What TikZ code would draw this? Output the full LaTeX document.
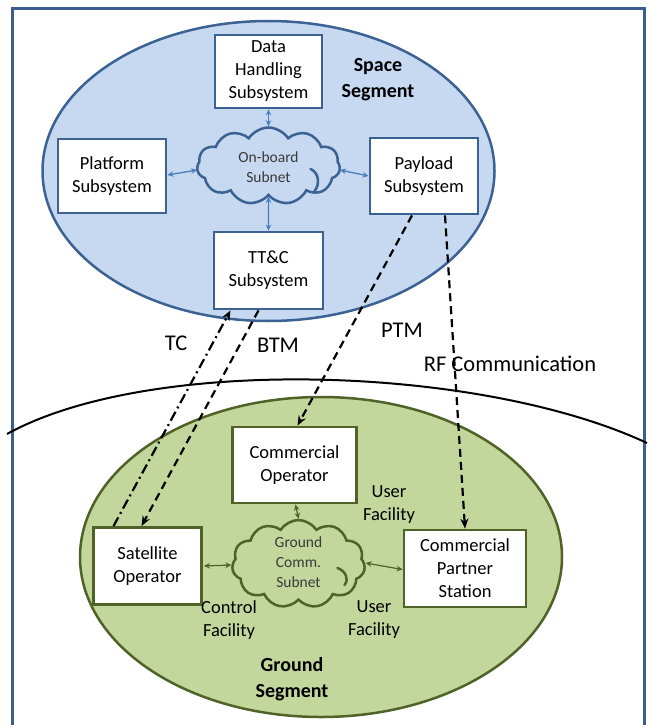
\documentclass[tikz,border=0pt]{standalone}
\usepackage{fontspec}
\setmainfont{Carlito}
\usetikzlibrary{shapes.symbols,arrows.meta,calc}

\definecolor{spacefill}{HTML}{C6D9F1}
\definecolor{spaceline}{HTML}{3C6193}
\definecolor{linkblue}{HTML}{4A7EBB}
\definecolor{groundfill}{HTML}{C3D69B}
\definecolor{groundline}{HTML}{4F6228}
\definecolor{framecol}{HTML}{3B5E8E}
\definecolor{cloudtext}{HTML}{3A3A3A}

\newcommand\boxfont{\fontsize{18.5}{23}\selectfont}
\newcommand\cloudfont{\fontsize{15.5}{20}\selectfont}
\newcommand\segfont{\fontsize{20}{26}\selectfont\bfseries}
\newcommand\linkfont{\fontsize{22.5}{27}\selectfont}

\tikzset{
  spacebox/.style={draw=spaceline, line width=2.8pt, fill=white, align=center,
    font=\boxfont, inner sep=0pt},
  groundbox/.style={draw=groundline, line width=2.8pt, fill=white, align=center,
    font=\boxfont, inner sep=0pt},
  netcloud/.style={cloud, cloud puffs=11, cloud puff arc=115, aspect=1.8,
    line width=2.5pt, inner sep=0pt},
  cloudlabel/.style={align=center, font=\cloudfont, text=cloudtext, inner sep=0pt},
  segtitle/.style={align=center, font=\segfont, inner sep=0pt},
  plainlabel/.style={align=center, font=\boxfont, inner sep=0pt},
  linklabel/.style={font=\linkfont, inner sep=0pt},
  buslink/.style={linkblue, line width=1.3pt,
    {Stealth[length=6pt,width=5.5pt]}-{Stealth[length=6pt,width=5.5pt]}},
  gndlink/.style={groundline, line width=1.2pt,
    {Stealth[length=6pt,width=5.5pt]}-{Stealth[length=6pt,width=5.5pt]}},
  dashlink/.style={line width=2.2pt, dash pattern=on 8pt off 5pt,
    -{Stealth[length=10pt,width=8pt]}},
  dotdashlink/.style={line width=2.2pt, dash pattern=on 10pt off 4pt on 2pt off 4pt,
    -{Stealth[length=10pt,width=8pt]}},
}

\begin{document}
\begin{tikzpicture}[x=1pt,y=-1pt]
\useasboundingbox (0,0) rectangle (649,725);

% outer frame (open at the bottom)
\draw[framecol, line width=3pt] (12.5,740) -- (12.5,8.5) -- (644,8.5) -- (644,740);

% segments
\draw[fill=spacefill, draw=spaceline, line width=2.5pt]
  (268.5,171) ellipse [x radius=226pt, y radius=150pt];
\draw[fill=groundfill, draw=groundline, line width=2.5pt]
  (321,557) ellipse [x radius=241pt, y radius=160pt];

% horizon
\draw[line width=2pt] (7,434) .. controls (150,355) and (480,365) .. (647,443);

% ---- space segment ----
\node[spacebox, minimum width=107pt, minimum height=73pt] (dh) at (268.5,71.5)
  {Data\\Handling\\Subsystem};
\node[spacebox, minimum width=108pt, minimum height=74pt] (plat) at (112,176)
  {Platform\\Subsystem};
\node[spacebox, minimum width=108pt, minimum height=76pt] (pay) at (424,176)
  {Payload\\Subsystem};
\node[spacebox, minimum width=109pt, minimum height=77pt] (ttc) at (268.5,270.5)
  {TT\&C\\Subsystem};
\node[netcloud, draw=spaceline, fill=spacefill, minimum width=143pt, minimum height=77pt]
  (obc) at (268.5,166) {};
\node[cloudlabel] (obct) at (268.5,167) {On-board\\Subnet};
\draw[spaceline, line width=2.5pt, line cap=round]
  ($(obc.center)+(42,3)$) .. controls ($(obc.center)+(50,6)$) and ($(obc.center)+(52,18)$) .. ($(obc.center)+(46,25)$);
\node[segtitle] (spt) at (378,80) {Space\\Segment};

\draw[buslink] (dh.south) -- (obc.north);
\draw[buslink] (obc.south) -- (ttc.north);
\draw[buslink] ($(plat.east)+(0,-1)$) -- ($(obc.west)+(1,4)$);
\draw[buslink] ($(obc.east)+(-1,4)$) -- (pay.west);

% ---- ground segment ----
\node[groundbox, minimum width=124pt, minimum height=76pt] (cop) at (294.5,465)
  {Commercial\\Operator};
\node[groundbox, minimum width=108pt, minimum height=77pt] (sat) at (147.5,566)
  {Satellite\\Operator};
\node[groundbox, minimum width=122pt, minimum height=77pt] (cps) at (465,568.5)
  {Commercial\\Partner\\Station};
\node[netcloud, draw=groundline, fill=groundfill, minimum width=133pt, minimum height=88pt]
  (gnd) at (298.5,564) {};
\node[cloudlabel] (gndt) at (298.5,562) {Ground\\Comm.\\Subnet};
\draw[groundline, line width=2.5pt, line cap=round]
  ($(gnd.center)+(39,4)$) .. controls ($(gnd.center)+(47,7)$) and ($(gnd.center)+(51,15)$) .. ($(gnd.center)+(46,21)$);
\node[segtitle] (gst) at (292,679) {Ground\\Segment};

\draw[gndlink] ($(cop.south)+(1,0)$) -- (gnd.north);
\draw[gndlink] ($(sat.east)+(1,0)$) -- ($(gnd.west)+(0,1)$);
\draw[gndlink] ($(gnd.east)+(0,-1)$) -- ($(cps.west)+(0,1)$);

\node[plainlabel] (uf1) at (389,505) {User\\Facility};
\node[plainlabel] (cf) at (229,620) {Control\\Facility};
\node[plainlabel] (uf2) at (374,620) {User\\Facility};

% ---- space/ground links ----
\draw[dotdashlink] ($(sat.north)+(-34,0)$) -- ($(ttc.south)+(-38,0)$);
\draw[dashlink] ($(ttc.south)+(-10,0)$) -- ($(sat.north)+(-6,0)$);
\draw[dashlink] ($(pay.south)+(-12,0)$) -- ($(cop.north)+(3,0)$);
\draw[dashlink] ($(pay.south)+(21,0)$) -- (cps.north);

\node[linklabel] (tc) at (176,343) {TC};
\node[linklabel] (btm) at (278,345) {BTM};
\node[linklabel] (ptm) at (402,330) {PTM};
\node[linklabel] (rf) at (510,364) {RF Communication};
\end{tikzpicture}
\end{document}
